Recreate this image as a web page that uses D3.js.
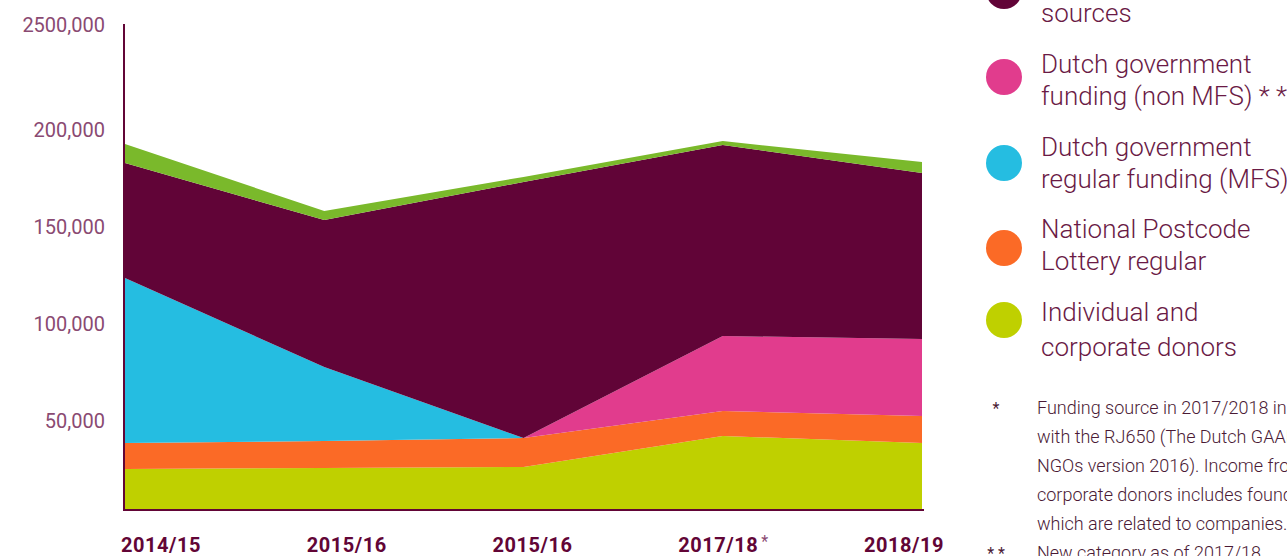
<!DOCTYPE html>
<html>
<head>
<meta charset="utf-8">
<script src="https://cdn.jsdelivr.net/npm/d3@7"></script>
<style>
  body { margin: 0; background: #fff; }
  svg text { font-family: Roboto, "Noto Sans", sans-serif; }
</style>
</head>
<body>
<svg></svg>
<script>
const svgWidth = 1287;
const svgHeight = 556;

// data, bottom of the stack first
const years = ["2014/15", "2015/16", "2015/16 ", "2017/18", "2018/19"];
const yearLabels = ["2014/15", "2015/16", "2015/16", "2017/18", "2018/19"];
const individual = [25300, 25800, 26300, 42300, 38700];
const lottery = [13400, 13900, 14900, 12900, 13900];
const mfs = [85000, 38100, 0, 0, 0];
const nonMfs = [0, 0, 0, 38600, 39700];
const otherSources = [59300, 75800, 132000, 98500, 85500];
const otherIncome = [9800, 4600, 2600, 2000, 5700];
const yTicks = [50000, 100000, 150000, 200000, 250000];
const yTickLabels = ["50,000", "100,000", "150,000", "200,000", "2500,000"];

const keys = ["individual", "lottery", "mfs", "nonMfs", "otherSources", "otherIncome"];
const colors = {
  individual: "#bfd000",
  lottery: "#fb6a26",
  mfs: "#25bde1",
  nonMfs: "#e13c8d",
  otherSources: "#610437",
  otherIncome: "#7ab92b"
};
// legend goes top to bottom like the stack
const legendItems = [
  { key: "otherIncome", lines: ["Other income", ""] },
  { key: "otherSources", lines: ["Other funding", "sources"] },
  { key: "nonMfs", lines: ["Dutch government", "funding (non MFS) * *"] },
  { key: "mfs", lines: ["Dutch government", "regular funding (MFS)"] },
  { key: "lottery", lines: ["National Postcode", "Lottery regular"] },
  { key: "individual", lines: ["Individual and", "corporate donors"] }
];
const legendY = [-95, -9, 77, 163, 248, 320];
const legendTextY = [[-102, -70], [-19, 13], [64, 96], [147, 179], [229, 261], [312, 347]];

const notes = [
  { mark: "*", lines: ["Funding source in 2017/2018 in accordance", "with the RJ650 (The Dutch GAAP for", "NGOs version 2016). Income from individual and", "corporate donors includes foundations", "which are related to companies."] },
  { mark: "* *", lines: ["New category as of 2017/18."] }
];

const rows = years.map((y, i) => ({
  year: y,
  individual: individual[i],
  lottery: lottery[i],
  mfs: mfs[i],
  nonMfs: nonMfs[i],
  otherSources: otherSources[i],
  otherIncome: otherIncome[i]
}));

const left = 125, right = 922, baseY = 510;

const svg = d3.select("svg")
  .attr("width", svgWidth)
  .attr("height", svgHeight);

const x = d3.scalePoint().domain(years).range([left, right]);
const y = d3.scaleLinear().domain([0, 250000]).range([518, 33]);
const xLab = d3.scalePoint().domain(years).range([161, 904]);

const stack = d3.stack().keys(keys)(rows);

svg.append("clipPath").attr("id", "plotclip")
  .append("rect").attr("x", left).attr("y", 0)
  .attr("width", right - left).attr("height", baseY);

const area = d3.area()
  .x(d => x(d.data.year))
  .y0(d => y(d[0]))
  .y1(d => y(d[1]));

svg.append("g").attr("clip-path", "url(#plotclip)")
  .selectAll("path")
  .data(stack)
  .enter()
  .append("path")
  .attr("d", area)
  .attr("fill", d => colors[d.key]);

// axes lines
svg.append("line")
  .attr("x1", 124).attr("x2", 124).attr("y1", 24).attr("y2", baseY + 1)
  .attr("stroke", "#620536").attr("stroke-width", 2);
svg.append("line")
  .attr("x1", 123).attr("x2", right + 2).attr("y1", baseY).attr("y2", baseY)
  .attr("stroke", "#620536").attr("stroke-width", 2);

// y tick labels
svg.selectAll(".ytick")
  .data(yTicks)
  .enter()
  .append("text")
  .attr("class", "ytick")
  .attr("x", 105)
  .attr("y", d => y(d) - (d === 250000 ? 8 : 0))
  .attr("dy", "0.35em")
  .attr("text-anchor", "end")
  .attr("font-size", 20)
  .attr("fill", "#8a4a72")
  .text((d, i) => yTickLabels[i]);

// x labels
svg.selectAll(".xtick")
  .data(years)
  .enter()
  .append("text")
  .attr("class", "xtick")
  .attr("x", d => xLab(d))
  .attr("y", 552)
  .attr("text-anchor", "middle")
  .attr("font-size", 20)
  .attr("font-weight", "bold")
  .attr("letter-spacing", "0.5px")
  .attr("fill", "#620536")
  .text((d, i) => yearLabels[i]);
svg.append("text")
  .attr("x", xLab(years[3]) + 43)
  .attr("y", 547)
  .attr("font-size", 16)
  .attr("fill", "#8a4a72")
  .text("*");

// legend
const lg = svg.selectAll(".leg")
  .data(legendItems)
  .enter()
  .append("g")
  .attr("class", "leg");
lg.append("circle")
  .attr("cx", 1004)
  .attr("cy", (d, i) => legendY[i])
  .attr("r", 18)
  .attr("fill", d => colors[d.key]);
lg.each(function(d, i) {
  const g = d3.select(this);
  d.lines.forEach((t, j) => {
    g.append("text")
      .attr("x", 1041)
      .attr("y", legendTextY[i][j])
      .attr("dy", "0.35em")
      .attr("font-size", 26)
      .attr("font-weight", 300)
      .attr("fill", "#6a1a45")
      .text(t);
  });
});

// footnotes
let ny = 408;
notes.forEach(n => {
  svg.append("text")
    .attr("x", 996).attr("y", ny).attr("dy", "0.35em")
    .attr("text-anchor", "middle")
    .attr("font-size", 16).attr("fill", "#4a1a35")
    .text(n.mark);
  n.lines.forEach(t => {
    svg.append("text")
      .attr("x", 1037).attr("y", ny).attr("dy", "0.35em")
      .attr("font-size", 18).attr("font-weight", 300)
      .attr("fill", "#4a1a35")
      .text(t);
    ny += 29;
  });
});
</script>
</body>
</html>
